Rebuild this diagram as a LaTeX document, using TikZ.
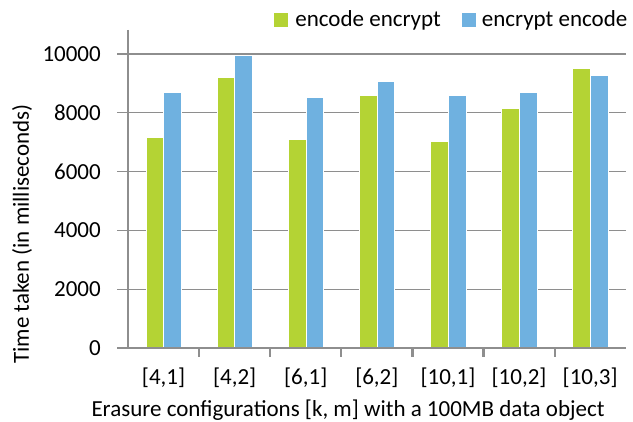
\documentclass[tikz,border=0pt]{standalone}
\usepackage{fontspec}
\setmainfont{Carlito}
\definecolor{encgreen}{HTML}{B4D334}
\definecolor{encblue}{HTML}{6FB1E0}
\definecolor{axisgray}{HTML}{8E8E8E}
\begin{document}
\begin{tikzpicture}[x=1pt,y=1pt,font=\fontsize{23}{27}\selectfont,
    gridline/.style={draw=axisgray, line width=1.3pt},
    axisline/.style={draw=axisgray, line width=2.8pt},
    greenbar/.style={fill=encgreen, draw=white, line width=0.4pt},
    bluebar/.style={fill=encblue, draw=white, line width=0.4pt},
    keybox/.style={minimum size=14pt, inner sep=0pt}]
  \useasboundingbox (0,0) rectangle (633,422);
  % grid and value labels
  \foreach \v [count=\i] in {0,2000,...,10000} {
    \node[anchor=east, inner sep=0pt] (val\i) at (101,{74+\v*0.0294}) {\v};
    \ifnum\v>0 \draw[gridline] (117,{74+\v*0.0294}) -- (626,{74+\v*0.0294}); \fi
  }
  % bars
  \foreach \k/\m/\a/\b [count=\i] in {4/1/7153/8707, 4/2/9207/9942, 6/1/7098/8514,
      6/2/8582/9082, 10/1/7018/8582, 10/2/8152/8707, 10/3/9512/9263} {
    \path[greenbar] ({128+71.1*(\i-0.5)-17.8},74) rectangle ({128+71.1*(\i-0.5)},{74+\a*0.0294});
    \path[bluebar] ({128+71.1*(\i-0.5)},74) rectangle ({128+71.1*(\i-0.5)+17.8},{74+\b*0.0294});
    \node (cat\i) at ({128+71.1*(\i-0.5)},44) {[\k,\m]};
  }
  % axes
  \coordinate (origin) at (128,74);
  \coordinate (ytop) at (128,392);
  \coordinate (xleft) at (117,74);
  \coordinate (xright) at (626,74);
  \draw[axisline] (ytop) -- (origin);
  \draw[axisline] (xleft) -- (xright);
  \foreach \i in {1,...,6}
    \draw[gridline, line width=2.2pt] ({128+71.1*\i},74) -- ({128+71.1*\i},65);
  % titles
  \node (xtitle) at (348,12) {Erasure configurations [k, m] with a 100MB data object};
  \node[rotate=90] (ytitle) at (22,188) {Time taken (in milliseconds)};
  % legend
  \node[keybox, fill=encgreen] (keyA) at (281,402) {};
  \node[anchor=west, inner sep=0pt] (txtA) at ([xshift=7pt]keyA.east) {encode encrypt};
  \node[keybox, fill=encblue] (keyB) at (468.5,402) {};
  \node[anchor=west, inner sep=0pt] (txtB) at ([xshift=6pt]keyB.east) {encrypt encode};
\end{tikzpicture}
\end{document}
